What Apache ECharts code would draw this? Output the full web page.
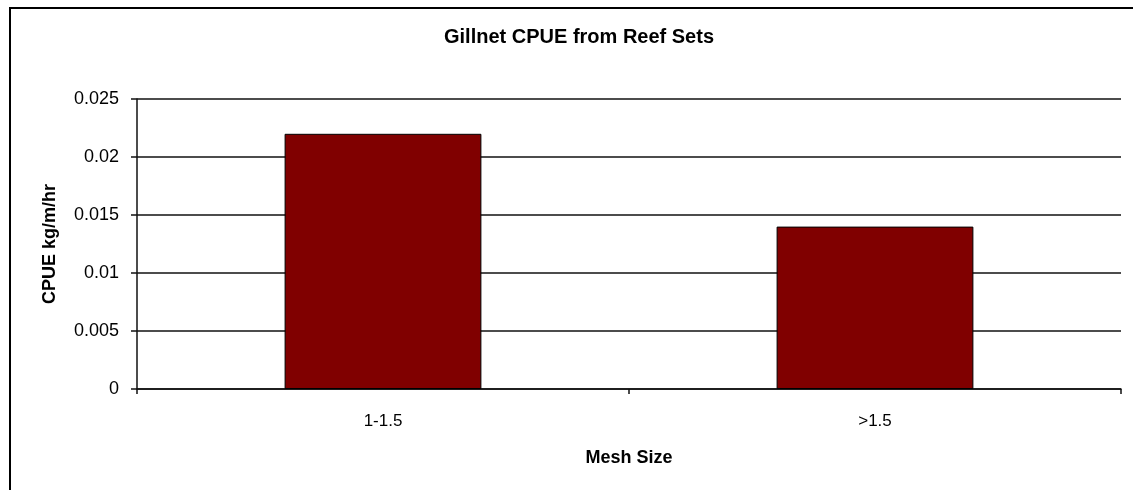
<!DOCTYPE html>
<html>
<head>
<meta charset="utf-8">
<script src="https://cdn.jsdelivr.net/npm/echarts@6/dist/echarts.min.js"></script>
<style>
  html, body { margin: 0; padding: 0; background: #fff; }
  #chart { width: 1133px; height: 490px; }
</style>
</head>
<body>
<div id="chart"></div>
<script>
// Gillnet catch per unit effort by mesh size (reef sets)
const meshSizes = ['1-1.5', '>1.5'];
const cpueValues = [0.022, 0.014];
const yTicks = { min: 0, max: 0.025, step: 0.005 };

const FONT = '"Liberation Sans", Arial, sans-serif';
const LINE = { color: '#111', width: 1.5 };

const chart = echarts.init(document.getElementById('chart'), null, { renderer: 'canvas' });

chart.setOption({
  backgroundColor: '#ffffff',
  animation: false,
  title: {
    text: 'Gillnet CPUE from Reef Sets',
    left: 574,
    top: 22,
    textAlign: 'center',
    textStyle: { fontFamily: FONT, fontSize: 20, fontWeight: 'bold', color: '#000' }
  },
  graphic: [{
    type: 'rect',
    shape: { x: 10, y: 8, width: 1300, height: 700 },
    style: { fill: 'none', stroke: '#000', lineWidth: 2 },
    silent: true,
    z: 100
  }],
  grid: { left: 137, right: 12, top: 99, bottom: 101, containLabel: false },
  xAxis: {
    type: 'category',
    data: meshSizes,
    name: 'Mesh Size',
    nameLocation: 'middle',
    nameGap: 60,
    nameTextStyle: { fontFamily: FONT, fontSize: 18, fontWeight: 'bold', color: '#000' },
    axisLine: { lineStyle: LINE },
    axisTick: { show: true, length: 5, lineStyle: LINE },
    axisLabel: { fontFamily: FONT, fontSize: 17, color: '#000', margin: 24 },
    splitLine: { show: false }
  },
  yAxis: {
    type: 'value',
    min: yTicks.min,
    max: yTicks.max,
    interval: yTicks.step,
    name: 'CPUE kg/m/hr',
    nameLocation: 'middle',
    nameRotate: 90,
    nameGap: 78,
    nameTextStyle: { fontFamily: FONT, fontSize: 18, fontWeight: 'bold', color: '#000' },
    axisLine: { show: true, lineStyle: LINE },
    axisTick: { show: true, length: 6, lineStyle: LINE },
    axisLabel: { fontFamily: FONT, fontSize: 18, color: '#000', margin: 18 },
    splitLine: { show: true, lineStyle: LINE }
  },
  series: [{
    type: 'bar',
    data: cpueValues,
    barWidth: '40%',
    itemStyle: { color: '#800000', borderColor: '#000', borderWidth: 1 }
  }]
});
</script>
</body>
</html>
